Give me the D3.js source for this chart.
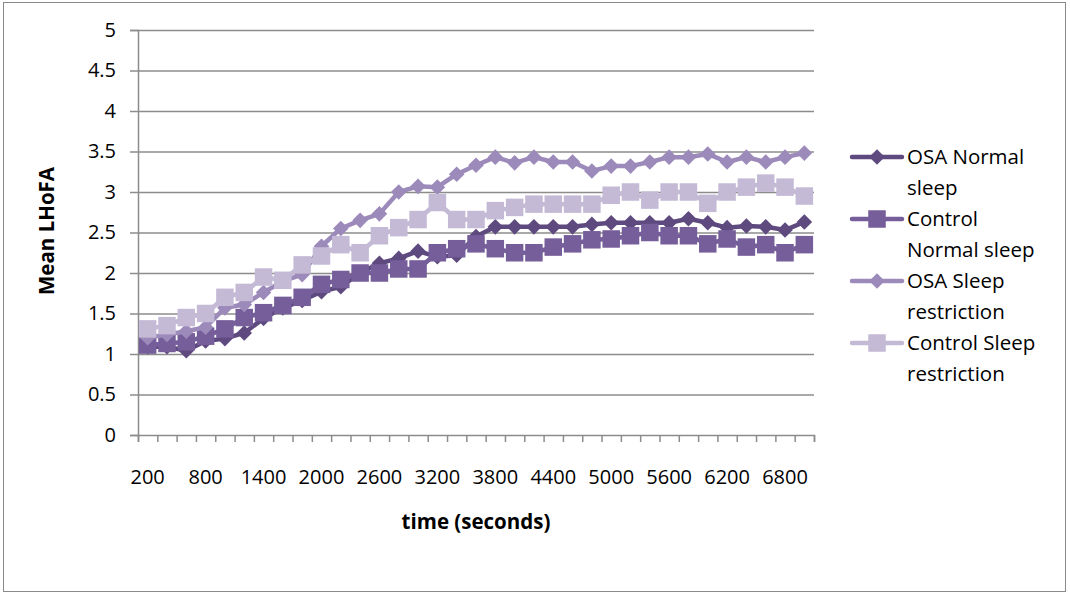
<!DOCTYPE html>
<html>
<head>
<meta charset="utf-8">
<script src="https://cdn.jsdelivr.net/npm/d3@7"></script>
<style>
  html, body { margin: 0; padding: 0; background: #fff; }
  svg { display: block; font-family: "Open Sans", "Noto Sans", sans-serif; }
</style>
</head>
<body>
<svg id="chart" width="1070" height="596"></svg>
<script>
// ---- data ----
const categories = [200,400,600,800,1000,1200,1400,1600,1800,2000,2200,2400,2600,2800,3000,3200,3400,3600,3800,4000,4200,4400,4600,4800,5000,5200,5400,5600,5800,6000,6200,6400,6600,6800,7000];
const xTickLabels = [200,800,1400,2000,2600,3200,3800,4400,5000,5600,6200,6800];
const yTicks = [0,0.5,1,1.5,2,2.5,3,3.5,4,4.5,5];
const seriesNames = ["OSA Normal sleep","Control Normal sleep","OSA Sleep restriction","Control Sleep restriction"];
const legendLines = [["OSA Normal","sleep"],["Control","Normal sleep"],["OSA Sleep","restriction"],["Control Sleep","restriction"]];
const osaNormal = [1.09,1.09,1.04,1.16,1.19,1.26,1.44,1.57,1.66,1.77,1.83,2.00,2.12,2.18,2.27,2.20,2.22,2.45,2.57,2.57,2.57,2.57,2.57,2.60,2.62,2.62,2.62,2.62,2.67,2.62,2.56,2.58,2.57,2.53,2.63];
const controlNormal = [1.11,1.13,1.15,1.22,1.31,1.45,1.51,1.60,1.70,1.86,1.92,2.00,2.00,2.05,2.05,2.25,2.30,2.36,2.30,2.25,2.25,2.32,2.36,2.41,2.42,2.46,2.50,2.46,2.46,2.36,2.42,2.32,2.35,2.25,2.35];
const osaRestriction = [1.20,1.24,1.28,1.33,1.57,1.61,1.76,1.90,1.98,2.33,2.55,2.65,2.73,3.00,3.07,3.06,3.22,3.33,3.43,3.36,3.43,3.37,3.37,3.26,3.32,3.32,3.37,3.43,3.43,3.47,3.37,3.43,3.37,3.43,3.48];
const controlRestriction = [1.31,1.35,1.45,1.50,1.70,1.76,1.95,1.91,2.10,2.21,2.35,2.25,2.46,2.56,2.66,2.87,2.66,2.66,2.77,2.81,2.85,2.85,2.85,2.85,2.96,3.00,2.90,3.00,3.00,2.86,3.00,3.06,3.11,3.06,2.95];

const seriesValues = [osaNormal, controlNormal, osaRestriction, controlRestriction];
const colors = ["#5e4a7f", "#765e9b", "#9c8aba", "#c4bad6"];
const shapes = ["diamond", "square", "diamond", "square"];

// ---- layout ----
const svg = d3.select("#chart");
const plotLeft = 138, plotRight = 814, plotTop = 30, plotBottom = 435;
const tickFont = 20, legendFont = 20.5, titleFont = 20.5;

const x = d3.scaleBand().domain(categories).range([plotLeft, plotRight]).padding(0);
const xTickPos = d3.scaleLinear().domain([0, categories.length]).range([plotLeft, plotRight]);
const y = d3.scaleLinear().domain([0, 5]).range([plotBottom, plotTop]);
const cx = c => x(c) + x.bandwidth() / 2;

// outer frame
svg.append("rect").attr("x", 3.5).attr("y", 2.5).attr("width", 1062).attr("height", 589)
  .attr("fill", "none").attr("stroke", "#8a8a8a").attr("stroke-width", 1);

// gridlines
svg.append("g")
  .attr("transform", `translate(${plotLeft},0)`)
  .call(d3.axisLeft(y).tickValues(yTicks.slice(1)).tickSize(-(plotRight - plotLeft)).tickFormat(""))
  .call(g => g.select(".domain").remove())
  .call(g => g.selectAll("line").attr("stroke", "#8c8c8c").attr("stroke-width", 1.5));

// y axis
svg.append("g")
  .attr("transform", `translate(${plotLeft},0)`)
  .call(d3.axisLeft(y).tickValues(yTicks).tickSize(8).tickPadding(14).tickFormat(d3.format("")))
  .call(g => g.select(".domain").attr("stroke", "#8c8c8c").attr("stroke-width", 1.5))
  .call(g => g.selectAll("line").attr("stroke", "#8c8c8c").attr("stroke-width", 1.5))
  .call(g => g.selectAll("text").attr("font-size", tickFont).attr("fill", "#000")
      .attr("font-family", "'Open Sans', sans-serif"));

// x axis line and boundary ticks
svg.append("g")
  .attr("transform", `translate(0,${plotBottom})`)
  .call(d3.axisBottom(xTickPos).tickValues(d3.range(0, categories.length + 1)).tickSize(7).tickFormat(""))
  .call(g => g.select(".domain").attr("stroke", "#8c8c8c").attr("stroke-width", 1.5))
  .call(g => g.selectAll("line").attr("stroke", "#8c8c8c").attr("stroke-width", 1.5));

// x labels
svg.append("g")
  .attr("transform", `translate(0,${plotBottom})`)
  .call(d3.axisBottom(x).tickValues(xTickLabels).tickSize(0).tickPadding(35))
  .call(g => g.select(".domain").remove())
  .call(g => g.selectAll("text").attr("font-size", tickFont).attr("fill", "#000")
      .attr("font-family", "'Open Sans', sans-serif"));

// axis titles
svg.append("text").attr("x", 476).attr("y", 529).attr("text-anchor", "middle")
  .attr("font-size", titleFont).attr("font-weight", "bold").text("time (seconds)");
svg.append("text").attr("transform", "translate(54,231) rotate(-90)").attr("text-anchor", "middle")
  .attr("font-size", titleFont).attr("font-weight", "bold").text("Mean LHoFA");

function drawMarker(g, shape, px, py, color) {
  if (shape === "diamond") {
    const r = 7.8;
    g.append("path").attr("d", `M${px},${py - r}L${px + r},${py}L${px},${py + r}L${px - r},${py}Z`).attr("fill", color);
  } else {
    const s = 17.5;
    g.append("rect").attr("x", px - s / 2).attr("y", py - s / 2).attr("width", s).attr("height", s).attr("fill", color);
  }
}

const line = d3.line().x((d, i) => cx(categories[i])).y(d => y(d));

seriesValues.forEach((vals, si) => {
  const g = svg.append("g");
  g.append("path").datum(vals).attr("d", line).attr("fill", "none")
    .attr("stroke", colors[si]).attr("stroke-width", 4.5).attr("stroke-linejoin", "round");
  vals.forEach((v, i) => drawMarker(g, shapes[si], cx(categories[i]), y(v), colors[si]));
});

// legend
const legendY = [157, 219, 281, 343];
legendLines.forEach((lines, si) => {
  const g = svg.append("g");
  const ly = legendY[si];
  g.append("line").attr("x1", 852).attr("x2", 902).attr("y1", ly).attr("y2", ly)
    .attr("stroke", colors[si]).attr("stroke-width", 4.5).attr("stroke-linecap", "round");
  drawMarker(g, shapes[si], 877, ly, colors[si]);
  lines.forEach((t, k) => {
    g.append("text").attr("x", 907).attr("y", ly + 7 + k * 31).attr("font-size", legendFont).attr("fill", "#000").text(t);
  });
});
</script>
</body>
</html>
